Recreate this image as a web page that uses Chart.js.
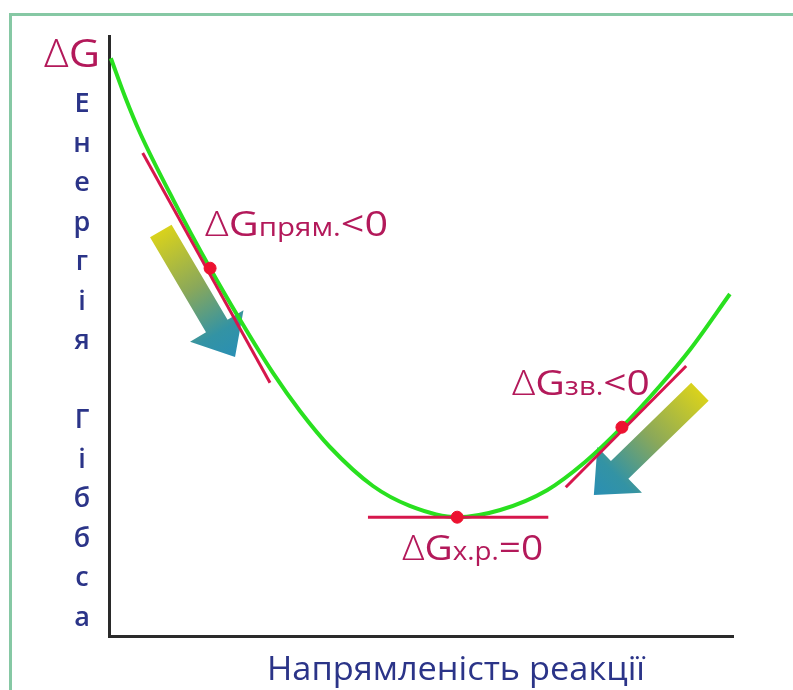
<!DOCTYPE html>
<html>
<head>
<meta charset="utf-8">
<script src="https://cdn.jsdelivr.net/npm/chart.js@4.4.1/dist/chart.umd.min.js"></script>
<style>
  html, body { margin: 0; padding: 0; background: #fff; overflow: hidden; }
  #wrap { position: relative; width: 793px; height: 690px; }
  #frame { position: absolute; left: 9px; top: 13px; width: 820px; height: 720px;
           border: 3px solid #86c8a4; box-sizing: border-box; }
  canvas { position: absolute; left: 0; top: 0; }
</style>
</head>
<body>
<div id="wrap">
  <div id="frame"></div>
  <canvas id="grafico" width="793" height="690"></canvas>
</div>
<script>
// Крива енергії Гіббса (умовні одиниці 0..100)
const curveX = [0.3, 2.6, 5.0, 10.3, 16.2, 21.0, 26.3, 30.6, 35.4, 42.3, 48.2, 55.8, 62.7, 70.2, 76.3, 82.2, 88.3, 93.1, 99.5];
const curveY = [96.3, 89.8, 83.8, 72.7, 61.3, 52.7, 43.8, 37.5, 31.5, 25.0, 21.7, 19.8, 21.0, 24.3, 29.0, 34.8, 41.7, 47.7, 57.0];

// Точки стану та дотичні
const pointX = [16.2, 55.8, 82.2];
const pointY = [61.3, 19.8, 34.8];
const tangentX = [[5.4, 25.8], [41.5, 70.4], [73.2, 92.5]];
const tangentY = [[80.5, 42.2], [19.8, 19.8], [24.8, 45.0]];

// Підписи
const stateSubs = ['прям.', 'х.р.', 'зв.'];
const stateSigns = ['<0', '=0', '<0'];
const yTitle = 'Енергія Гіббса';
const xTitle = 'Напрямленість реакції';

const crimson = '#b3195a';
const navy = '#2b3488';
const font = '"Open Sans", "Noto Sans", sans-serif';

// стрілки (в одиницях осей): хвіст -> вістря
const arrows = [
  { from: [8.3, 67.5], to: [20.2, 46.5], half: 31 },
  { from: [94.7, 40.7], to: [77.7, 23.5], half: 32 }
];

// місце підписів відносно точок (пікселі) і ширина
const labelBox = [
  { dx: -5, dy: -32, w: 183 },
  { dx: -55, dy: 43, w: 141 },
  { dx: -110, dy: -32, w: 138 }
];

function drawParts(ctx, parts, x, baseline, width) {
  let natural = 0;
  parts.forEach(p => {
    ctx.font = (p.weight || 400) + ' ' + p.size + 'px ' + font;
    p.w = ctx.measureText(p.t).width;
    natural += p.w;
  });
  const k = width ? width / natural : 1;
  ctx.save();
  ctx.translate(x, baseline);
  ctx.scale(k, 1);
  let cx = 0;
  parts.forEach(p => {
    ctx.font = (p.weight || 400) + ' ' + p.size + 'px ' + font;
    ctx.fillStyle = p.color || crimson;
    ctx.textBaseline = 'alphabetic';
    ctx.textAlign = 'left';
    ctx.fillText(p.t, cx, 0);
    cx += p.w;
  });
  ctx.restore();
}

const arrowPlugin = {
  id: 'arrows',
  beforeDatasetsDraw(chart) {
    const { ctx, scales: { x, y } } = chart;
    arrows.forEach(a => {
      const x0 = x.getPixelForValue(a.from[0]), y0 = y.getPixelForValue(a.from[1]);
      const x1 = x.getPixelForValue(a.to[0]), y1 = y.getPixelForValue(a.to[1]);
      const len = Math.hypot(x1 - x0, y1 - y0);
      const ux = (x1 - x0) / len, uy = (y1 - y0) / len;
      const px = -uy, py = ux;
      const head = 36, shaft = 12.5;
      const bx = x1 - ux * head, by = y1 - uy * head;
      const g = ctx.createLinearGradient(x0, y0, x1, y1);
      g.addColorStop(0, '#d9d21c');
      g.addColorStop(0.45, '#8aa85a');
      g.addColorStop(0.8, '#3393a4');
      g.addColorStop(1, '#2a8fb4');
      ctx.save();
      ctx.fillStyle = g;
      ctx.beginPath();
      ctx.moveTo(x0 + px * shaft, y0 + py * shaft);
      ctx.lineTo(bx + px * shaft, by + py * shaft);
      ctx.lineTo(bx + px * a.half, by + py * a.half);
      ctx.lineTo(x1, y1);
      ctx.lineTo(bx - px * a.half, by - py * a.half);
      ctx.lineTo(bx - px * shaft, by - py * shaft);
      ctx.lineTo(x0 - px * shaft, y0 - py * shaft);
      ctx.closePath();
      ctx.fill();
      ctx.restore();
    });
  }
};

const textPlugin = {
  id: 'texts',
  afterDraw(chart) {
    const { ctx, chartArea: area, scales: { x, y } } = chart;
    ctx.save();
    // ΔG біля осі
    drawParts(ctx, [
      { t: 'Δ', size: 39, weight: 300 },
      { t: 'G', size: 39 }
    ], area.left - 65, area.top + 31, 56);

    // вертикальний підпис
    ctx.font = '600 27px ' + font;
    ctx.fillStyle = navy;
    ctx.textAlign = 'center';
    ctx.textBaseline = 'alphabetic';
    yTitle.split('').forEach((ch, i) => {
      ctx.fillText(ch, area.left - 27, 112 + i * 39.5);
    });

    // назва осі X
    drawParts(ctx, [{ t: xTitle, size: 33, color: navy }], 456 - 189, 680, 378);

    // підписи точок
    stateSubs.forEach((sub, i) => {
      const px = x.getPixelForValue(pointX[i]) + labelBox[i].dx;
      const py = y.getPixelForValue(pointY[i]) + labelBox[i].dy;
      drawParts(ctx, [
        { t: 'Δ', size: 35, weight: 300 },
        { t: 'G', size: 35 },
        { t: sub, size: 25 },
        { t: stateSigns[i], size: 35 }
      ], px, py, labelBox[i].w);
    });
    ctx.restore();
  }
};

const tangentSets = tangentX.map((xs, i) => ({
  type: 'line',
  data: xs.map((v, j) => ({ x: v, y: tangentY[i][j] })),
  borderColor: '#d6174c',
  borderWidth: 3,
  pointRadius: 0,
  order: 2
}));

const ctx = document.getElementById('grafico').getContext('2d');

new Chart(ctx, {
  type: 'scatter',
  data: {
    datasets: [
      {
        type: 'line',
        data: curveX.map((v, i) => ({ x: v, y: curveY[i] })),
        borderColor: '#29e01f',
        borderWidth: 4,
        pointRadius: 0,
        cubicInterpolationMode: 'monotone',
        order: 3
      },
      ...tangentSets,
      {
        data: pointX.map((v, i) => ({ x: v, y: pointY[i] })),
        backgroundColor: '#ec1230',
        borderColor: '#ec1230',
        pointRadius: 6,
        order: 1
      }
    ]
  },
  options: {
    responsive: false,
    animation: false,
    layout: { padding: { left: 109, top: 36, right: 60, bottom: 54 } },
    plugins: { legend: { display: false }, tooltip: { enabled: false } },
    scales: {
      x: {
        type: 'linear', min: 0, max: 100,
        grid: { display: false },
        ticks: { display: false },
        border: { color: '#2a2a2a', width: 3 },
        afterFit: s => { s.height = 0; }
      },
      y: {
        type: 'linear', min: 0, max: 100,
        grid: { display: false },
        ticks: { display: false },
        border: { color: '#2a2a2a', width: 3 },
        afterFit: s => { s.width = 0; }
      }
    }
  },
  plugins: [arrowPlugin, textPlugin]
});
</script>
</body>
</html>
